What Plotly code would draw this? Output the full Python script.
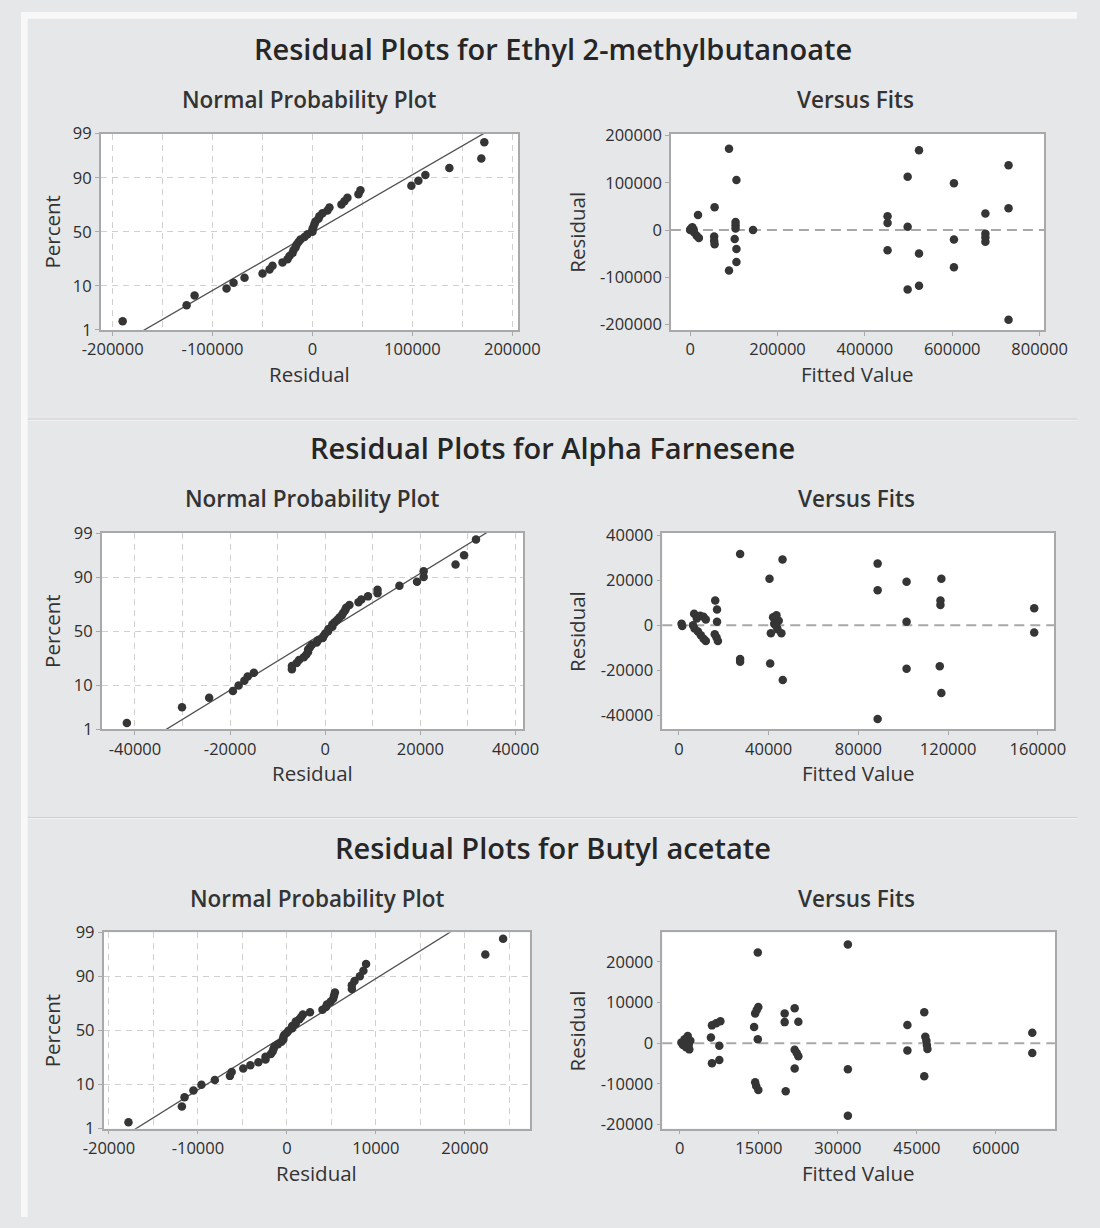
import plotly.graph_objects as go
from statistics import NormalDist, mean, stdev

W, H = 1100, 1228

# ---------------- DATA ----------------
titles = ["Residual Plots for Ethyl 2-methylbutanoate",
          "Residual Plots for Alpha Farnesene",
          "Residual Plots for Butyl acetate"]

# Ethyl 2-methylbutanoate
eth_fitted = [0, 1000, 5000, 8000, 9000, 15000, 20000, 18000, 56000, 55000, 55000, 56000,
              89000, 89000, 106000, 104000, 104000, 104000, 102000, 106000, 106000, 144000,
              452000, 452000, 452000, 498000, 498000, 498000, 524000, 524000, 524000,
              604000, 604000, 604000, 676000, 676000, 676000, 676000, 729000, 729000, 729000]
eth_resid = [0, 2000, 6000, 1000, -5000, -12000, -17000, 32000, 48000, -14000, -23000, -30000,
             172000, -86000, 106000, 17000, 10000, 3000, -19000, -40000, -68000, 0,
             29000, 15000, -43000, 113000, 7000, -126000, 169000, -50000, -118000,
             99000, -20000, -79000, 35000, -8000, -16000, -25000, 137000, 46000, -190000]

# Alpha Farnesene
alp_fitted = [1200, 1500, 6800, 8000, 9500, 11000, 12000, 6300, 7000, 8500, 9800, 11000, 12000,
              16200, 17000, 17000, 16000, 16800, 17400, 27300, 27300, 27300,
              40400, 40700, 42000, 43500, 44500, 42500, 43500, 41000, 44000, 45700, 46200, 46300,
              88600, 88600, 88600, 101500, 101500, 101500,
              117000, 116600, 116600, 116300, 117000, 158400, 158400]
alp_resid = [700, -300, 5100, 3000, 4200, 3800, 2500, 0, -1500, -2800, -4500, -6000, -7000,
             11000, 7000, 1500, -4000, -5500, -7000, 31700, -15000, -16300,
             20700, -17000, 3500, 4400, 2000, 600, -500, -3600, -1800, -3600, 29200, -24400,
             27400, 15600, -41700, 19300, 1500, -19400,
             20700, 11000, 9000, -18200, -30100, 7600, -3200]

# Butyl acetate
but_fitted = [300, 600, 900, 1200, 1500, 1800, 2000, 1000, 1700,
              5900, 6100, 6900, 7700, 7500, 6100, 7500,
              14100, 14300, 14600, 14900, 14800, 14800, 14300, 14500, 14900,
              19900, 19900, 20100, 21800, 22500, 21800, 22200, 22500, 21800,
              31900, 31900, 31900, 43200, 43200, 46400, 46600, 46800, 46900, 47000, 46400,
              66900, 66900]
but_resid = [200, -400, 1000, -1000, 1800, -1500, 600, 0, -300,
             1400, 4400, 4900, 5400, -600, -4900, -4100,
             4000, 7300, 8200, 8900, 22300, 1000, -9600, -10500, -11500,
             5200, 7300, -11800, 8600, 5300, -1600, -2400, -3200, -6200,
             24300, -6400, -17800, 4500, -1800, 7600, 1600, 600, -400, -1400, -8100,
             2600, -2400]

fitted_sets = [eth_fitted, alp_fitted, but_fitted]
resid_sets = [eth_resid, alp_resid, but_resid]

pct_ticks = [1, 10, 50, 90, 99]
npp_xticks = [[-200000, -100000, 0, 100000, 200000],
              [-40000, -20000, 0, 20000, 40000],
              [-20000, -10000, 0, 10000, 20000]]
npp_xgrid_step = [50000, 10000, 5000]
vf_xticks = [[0, 200000, 400000, 600000, 800000],
             [0, 40000, 80000, 120000, 160000],
             [0, 15000, 30000, 45000, 60000]]
vf_yticks = [[-200000, -100000, 0, 100000, 200000],
             [-40000, -20000, 0, 20000, 40000],
             [-20000, -10000, 0, 10000, 20000]]

# axis ranges
npp_xrange = [[-212000, 206000], [-47000, 41600], [-20600, 27300]]
vf_xrange = [[-44000, 811000], [-7400, 167200], [-3330, 71200]]
vf_yrange = [[-211600, 204000], [-46300, 41000], [-21000, 27250]]

# ---------------- LAYOUT (pixels) ----------------
row_off = [0, 407, 814]
npp_box_x = [[83, 518], [84, 523], [86, 530]]
vf_box_x = [[677, 1066], [668, 1076], [668, 1077]]
BOX_TOP, BOX_BOT = 124, 324

BG = "#e6e7e9"
FONT = "Open Sans, Noto Sans, DejaVu Sans, sans-serif"
TXT = "#2e2e2e"
MARK = "#353535"
BORDER = "#a9a9a9"
GRID = "#d0d0d0"
TICK_SIZE = 16.5
MSIZE = 8.5

nd = NormalDist()
zlo, zhi = nd.inv_cdf(0.01), nd.inv_cdf(0.99)


def px(x):
    return x / W


def py(y):
    return 1 - y / H


fig = go.Figure()
layout = dict(width=W, height=H, margin=dict(l=0, r=0, t=0, b=0),
              paper_bgcolor=BG, plot_bgcolor="white", showlegend=False,
              font=dict(family=FONT, color=TXT, size=TICK_SIZE))
annotations = []
shapes = []

axis_common = dict(showline=True, mirror=True, linecolor=BORDER, linewidth=1.5,
                   ticks="outside", ticklen=4, tickcolor=BORDER, tickwidth=1,
                   tickfont=dict(family=FONT, size=TICK_SIZE, color=TXT),
                   zeroline=False, fixedrange=True, tickmode="array")

for k in range(3):
    off = row_off[k]
    ydom = [py(BOX_BOT + off), py(BOX_TOP + off)]
    a, b = 2 * k + 1, 2 * k + 2
    xa, ya = ("x" if a == 1 else f"x{a}"), ("y" if a == 1 else f"y{a}")
    xb, yb = f"x{b}", f"y{b}"
    kxa = "xaxis" if a == 1 else f"xaxis{a}"
    kya = "yaxis" if a == 1 else f"yaxis{a}"
    kxb, kyb = f"xaxis{b}", f"yaxis{b}"

    res = resid_sets[k]
    fit = fitted_sets[k]
    n = len(res)
    srt = sorted(res)
    zs = [nd.inv_cdf((i + 1 - 0.3) / (n + 0.4)) for i in range(n)]
    mu, sd = mean(res), stdev(res)

    # normal probability plot
    fig.add_trace(go.Scatter(x=[mu + sd * (-3.2), mu + sd * 3.2], y=[-3.2, 3.2], mode="lines",
                             line=dict(color="#505050", width=1.3), xaxis=xa, yaxis=ya,
                             hoverinfo="skip"))
    fig.add_trace(go.Scatter(x=srt, y=zs, mode="markers",
                             marker=dict(color=MARK, size=MSIZE), xaxis=xa, yaxis=ya))
    # versus fits
    fig.add_trace(go.Scatter(x=fit, y=res, mode="markers",
                             marker=dict(color=MARK, size=MSIZE), xaxis=xb, yaxis=yb))

    layout[kxa] = dict(axis_common, domain=[px(npp_box_x[k][0]), px(npp_box_x[k][1])],
                       anchor=ya, range=npp_xrange[k],
                       tickvals=npp_xticks[k], ticktext=[str(v) for v in npp_xticks[k]],
                       showgrid=True, gridcolor=GRID, griddash="6px,5px", gridwidth=1,
                       minor=dict(tickmode="linear", tick0=0, dtick=npp_xgrid_step[k],
                                  showgrid=True, gridcolor=GRID, griddash="6px,5px",
                                  gridwidth=1, ticks=""))
    layout[kya] = dict(axis_common, domain=ydom, anchor=xa, range=[zlo, zhi],
                       tickvals=[nd.inv_cdf(p / 100) for p in pct_ticks],
                       ticktext=[str(p) for p in pct_ticks],
                       showgrid=True, gridcolor=GRID, griddash="6px,5px", gridwidth=1)
    layout[kxb] = dict(axis_common, domain=[px(vf_box_x[k][0]), px(vf_box_x[k][1])],
                       anchor=yb, range=vf_xrange[k],
                       tickvals=vf_xticks[k], ticktext=[str(v) for v in vf_xticks[k]],
                       showgrid=False)
    layout[kyb] = dict(axis_common, domain=ydom, anchor=xb, range=vf_yrange[k],
                       tickvals=vf_yticks[k], ticktext=[str(v) for v in vf_yticks[k]],
                       showgrid=False)

    shapes.append(dict(type="line", xref=f"{xb} domain", yref=yb, x0=0, x1=1, y0=0, y1=0,
                       line=dict(color="#a8a8a8", width=2, dash="10px,6px"), layer="below"))

    # texts
    annotations.append(dict(text=titles[k], x=px(554), y=py(37 + off), xref="paper", yref="paper",
                            showarrow=False, xanchor="center", yanchor="middle",
                            font=dict(size=29, color="#262626", weight=600)))
    npp_c = (npp_box_x[k][0] + npp_box_x[k][1]) / 2
    vf_c = (vf_box_x[k][0] + vf_box_x[k][1]) / 2
    for label, cx in (("Normal Probability Plot", npp_c), ("Versus Fits", vf_c - 2)):
        annotations.append(dict(text=label, x=px(cx), y=py(89 + off), xref="paper", yref="paper",
                                showarrow=False, xanchor="center", yanchor="middle",
                                font=dict(size=22.5, color="#333333", weight=600)))
    annotations.append(dict(text="Residual", x=px(npp_c), y=py(369 + off), xref="paper", yref="paper",
                            showarrow=False, xanchor="center", yanchor="middle",
                            font=dict(size=20.5, color="#333333")))
    annotations.append(dict(text="Fitted Value", x=px(vf_c), y=py(369 + off), xref="paper", yref="paper",
                            showarrow=False, xanchor="center", yanchor="middle",
                            font=dict(size=20.5, color="#333333")))
    annotations.append(dict(text="Percent", x=px(32), y=py(224 + off), xref="paper", yref="paper",
                            showarrow=False, xanchor="center", yanchor="middle", textangle=-90,
                            font=dict(size=20.5, color="#333333")))
    annotations.append(dict(text="Residual", x=px(579), y=py(224 + off), xref="paper", yref="paper",
                            showarrow=False, xanchor="center", yanchor="middle", textangle=-90,
                            font=dict(size=20.5, color="#333333")))

# frame strips and row separators
shapes.append(dict(type="rect", xref="paper", yref="paper", x0=0, x1=px(7), y0=0, y1=1,
                   fillcolor="#f8f8f8", line=dict(width=0), layer="below"))
shapes.append(dict(type="rect", xref="paper", yref="paper", x0=0, x1=1, y0=py(7), y1=1,
                   fillcolor="#f8f8f8", line=dict(width=0), layer="below"))
for ysep in (415, 821):
    shapes.append(dict(type="line", xref="paper", yref="paper", x0=px(7), x1=1,
                       y0=py(ysep), y1=py(ysep), line=dict(color="#c9cacc", width=1), layer="below"))
    shapes.append(dict(type="line", xref="paper", yref="paper", x0=px(7), x1=1,
                       y0=py(ysep + 1), y1=py(ysep + 1), line=dict(color="#f4f4f5", width=1), layer="below"))

layout["annotations"] = annotations
layout["shapes"] = shapes
fig.update_layout(**layout)
fig.write_html("out.html")
